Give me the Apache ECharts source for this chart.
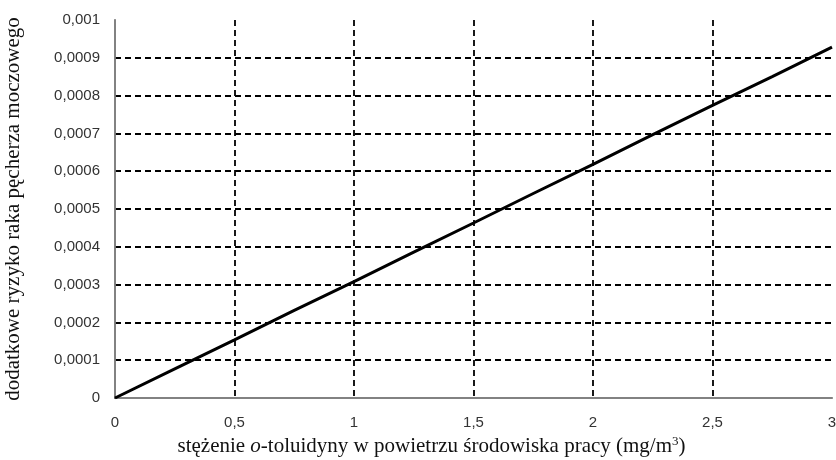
<!DOCTYPE html>
<html><head><meta charset="utf-8">
<script src="https://cdn.jsdelivr.net/npm/echarts@6/dist/echarts.min.js"></script>
<style>html,body{margin:0;padding:0;background:#fff}#c{width:836px;height:460px}</style>
</head><body><div id="c"></div>
<script>
const xValues = [0, 0.25, 0.5, 0.75, 1, 1.25, 1.5, 1.75, 2, 2.25, 2.5, 2.75, 3];
const riskValues = [0, 0.000077, 0.000154, 0.000232, 0.000308, 0.000386, 0.000463, 0.000541, 0.000618, 0.000697, 0.000774, 0.00085, 0.000928];
const xTickLabels = ['0', '0,5', '1', '1,5', '2', '2,5', '3'];
const yTickLabels = ['0', '0,0001', '0,0002', '0,0003', '0,0004', '0,0005', '0,0006', '0,0007', '0,0008', '0,0009', '0,001'];

const chart = echarts.init(document.getElementById('c'));
const serif = 'Liberation Serif, Times New Roman, serif';
const tickFont = {fontFamily: 'Liberation Sans, Arial, sans-serif', fontSize: 15, color: '#333'};
chart.setOption({
  animation: false,
  grid: {left: 115, right: 4, top: 20, bottom: 62, containLabel: false, outerBoundsMode: 'none'},
  xAxis: [{
    type: 'value', min: 0, max: 3, interval: 0.5,
    axisLine: {lineStyle: {color: '#000', width: 1.5}},
    axisTick: {show: false},
    axisLabel: Object.assign({margin: 17, formatter: (v) => xTickLabels[Math.round(v / 0.5)]}, tickFont),
    splitLine: {show: true, showMinLine: false, showMaxLine: false, lineStyle: {color: '#000', type: [6, 4], width: 1.8}},
    name: '{n|stężenie }{i|o}{n|-toluidyny w powietrzu środowiska pracy (mg/m}{s|3}{n|)}',
    nameLocation: 'middle', nameGap: 33,
    nameTextStyle: {padding: [0, 84, 0, 0], rich: {
      n: {fontFamily: serif, fontSize: 21, color: '#111'},
      i: {fontFamily: serif, fontSize: 21, fontStyle: 'italic', color: '#111'},
      s: {fontFamily: serif, fontSize: 13, color: '#111', padding: [0, 0, 10, 0]}
    }}
  }, {
    type: 'value', min: 0, max: 3, position: 'top',
    axisLine: {show: true, lineStyle: {color: '#999', width: 1.5}},
    axisTick: {show: false}, axisLabel: {show: false}, splitLine: {show: false}
  }],
  yAxis: [{
    type: 'value', min: 0, max: 0.001, interval: 0.0001,
    axisLine: {show: true, lineStyle: {color: '#000', width: 1.5}},
    axisTick: {show: false},
    axisLabel: Object.assign({margin: 15, formatter: (v) => yTickLabels[Math.round(v / 0.0001)]}, tickFont),
    splitLine: {show: true, showMinLine: false, showMaxLine: false, lineStyle: {color: '#000', type: [6, 4], width: 1.8}},
    name: 'dodatkowe ryzyko raka pęcherza moczowego',
    nameLocation: 'middle', nameGap: 91,
    nameTextStyle: {fontFamily: serif, fontSize: 21, color: '#111'}
  }, {
    type: 'value', min: 0, max: 0.001, position: 'right',
    axisLine: {show: true, lineStyle: {color: '#999', width: 1.5}},
    axisTick: {show: false}, axisLabel: {show: false}, splitLine: {show: false}
  }],
  series: [{
    type: 'line', xAxisIndex: 0, yAxisIndex: 0,
    data: xValues.map((x, i) => [x, riskValues[i]]),
    showSymbol: false, symbol: 'none',
    lineStyle: {color: '#000', width: 3}
  }]
});
</script></body></html>
